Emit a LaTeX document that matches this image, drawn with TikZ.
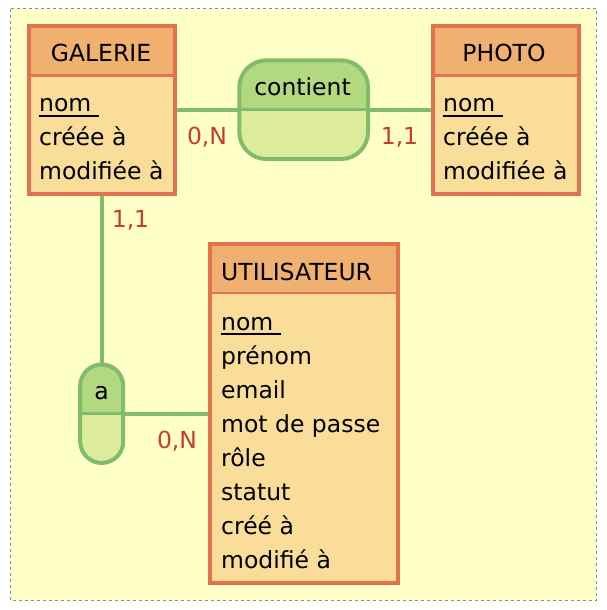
\documentclass[tikz,border=0pt]{standalone}
\usepackage{fontspec}
\setmainfont{DejaVu Sans}
\usetikzlibrary{backgrounds}
\definecolor{bgyellow}{RGB}{255,255,200}
\definecolor{bgdash}{RGB}{140,140,140}
\definecolor{entborder}{RGB}{226,114,80}
\definecolor{enthead}{RGB}{240,176,112}
\definecolor{entbody}{RGB}{249,221,153}
\definecolor{relborder}{RGB}{128,188,108}
\definecolor{reltop}{RGB}{178,216,128}
\definecolor{relbot}{RGB}{221,236,156}
\definecolor{cardred}{RGB}{200,60,50}
\newcommand\keyattr[1]{\setbox0\hbox{#1\ }\rlap{\rule[-5pt]{\wd0}{1.8pt}}#1}
\tikzset{
  entity/.style={draw=entborder, line width=4pt, fill=entbody, outer sep=0pt, inner sep=0pt,
    path picture={\fill[enthead] (path picture bounding box.north west) rectangle ([yshift=-#1]path picture bounding box.north east);}},
  entline/.style={draw=entborder, line width=2.8pt},
  relation/.style={draw=relborder, line width=4pt, fill=relbot, rounded corners=#1, outer sep=0pt, inner sep=0pt,
    path picture={\fill[reltop, sharp corners] (path picture bounding box.north west) rectangle (path picture bounding box.east);}},
  relline/.style={draw=relborder, line width=2.8pt},
  conn/.style={draw=relborder, line width=3.6pt},
  txt/.style={inner sep=0pt, font=\fontsize{23.5}{34}\selectfont, text=black},
  card/.style={inner sep=0pt, anchor=base, font=\fontsize{23.5}{30}\selectfont, text=cardred},
}
\begin{document}
\begin{tikzpicture}[x=1pt,y=-1pt]
\useasboundingbox (0,0) rectangle (606,610);
\begin{pgfonlayer}{background}
\draw[fill=bgyellow, draw=bgdash, line width=1pt, dash pattern=on 3pt off 3pt] (10.5,9) rectangle (596.5,600.5);
\end{pgfonlayer}
% entities
\node[entity=50pt, minimum width=146.6pt, minimum height=167.4pt] (galerie) at (102,110) {};
\draw[entline] ([yshift=-49.5pt]galerie.north west) -- ([yshift=-49.5pt]galerie.north east);
\node[entity=50pt, minimum width=146pt, minimum height=167.4pt] (photo) at (506,110) {};
\draw[entline] ([yshift=-49.5pt]photo.north west) -- ([yshift=-49.5pt]photo.north east);
\node[entity=49.5pt, minimum width=188pt, minimum height=339pt] (util) at (304,413.5) {};
\draw[entline] ([yshift=-49pt]util.north west) -- ([yshift=-49pt]util.north east);
% relations
\node[relation=27pt, minimum width=128.7pt, minimum height=98.7pt] (contient) at (303.7,109.7) {};
\draw[relline] (contient.west) -- (contient.east);
\node[relation=21.5pt, minimum width=43pt, minimum height=98.5pt] (a) at (101.7,413.7) {};
\draw[relline] (a.west) -- (a.east);
% connectors
\begin{pgfonlayer}{background}
\draw[conn] (galerie.east |- contient.west) -- (contient.west);
\draw[conn] (contient.east) -- (photo.west |- contient.east);
\draw[conn] (galerie.south -| a.north) -- (a.north);
\draw[conn] (a.east) -- (util.west |- a.east);
\end{pgfonlayer}
% titles
\node[txt, anchor=base] (galtitle) at (101,61.7) {GALERIE};
\node[txt, anchor=base] (phototitle) at (504,61.7) {PHOTO};
\node[txt, anchor=base west] (utiltitle) at (221,280) {UTILISATEUR};
\node[txt, anchor=base] (contitle) at (302.5,95.3) {contient};
\node[txt, anchor=base] (atitle) at (101.5,399) {a};
% attributes
\node[txt, anchor=base west] (gal1) at (39,111.7) {\keyattr{nom}};
\node[txt, anchor=base west] (gal2) at (39,145.5) {créée à};
\node[txt, anchor=base west] (gal3) at (39,179.2) {modifiée à};
\node[txt, anchor=base west] (pho1) at (443,111.7) {\keyattr{nom}};
\node[txt, anchor=base west] (pho2) at (443,145.5) {créée à};
\node[txt, anchor=base west] (pho3) at (443,179.2) {modifiée à};
\node[txt, anchor=base west] (ut1) at (221,330) {\keyattr{nom}};
\foreach \t [count=\i from 2] in {prénom,email,mot de passe,rôle,statut,créé à,modifié à}
  \node[txt, anchor=base west] (ut\i) at (221,296+34*\i) {\t};
% cardinalities
\node[card] (c1) at (207,144.5) {0,N};
\node[card] (c2) at (399.5,144.5) {1,1};
\node[card] (c3) at (130.5,227.7) {1,1};
\node[card] (c4) at (177,448.3) {0,N};
\end{tikzpicture}
\end{document}
